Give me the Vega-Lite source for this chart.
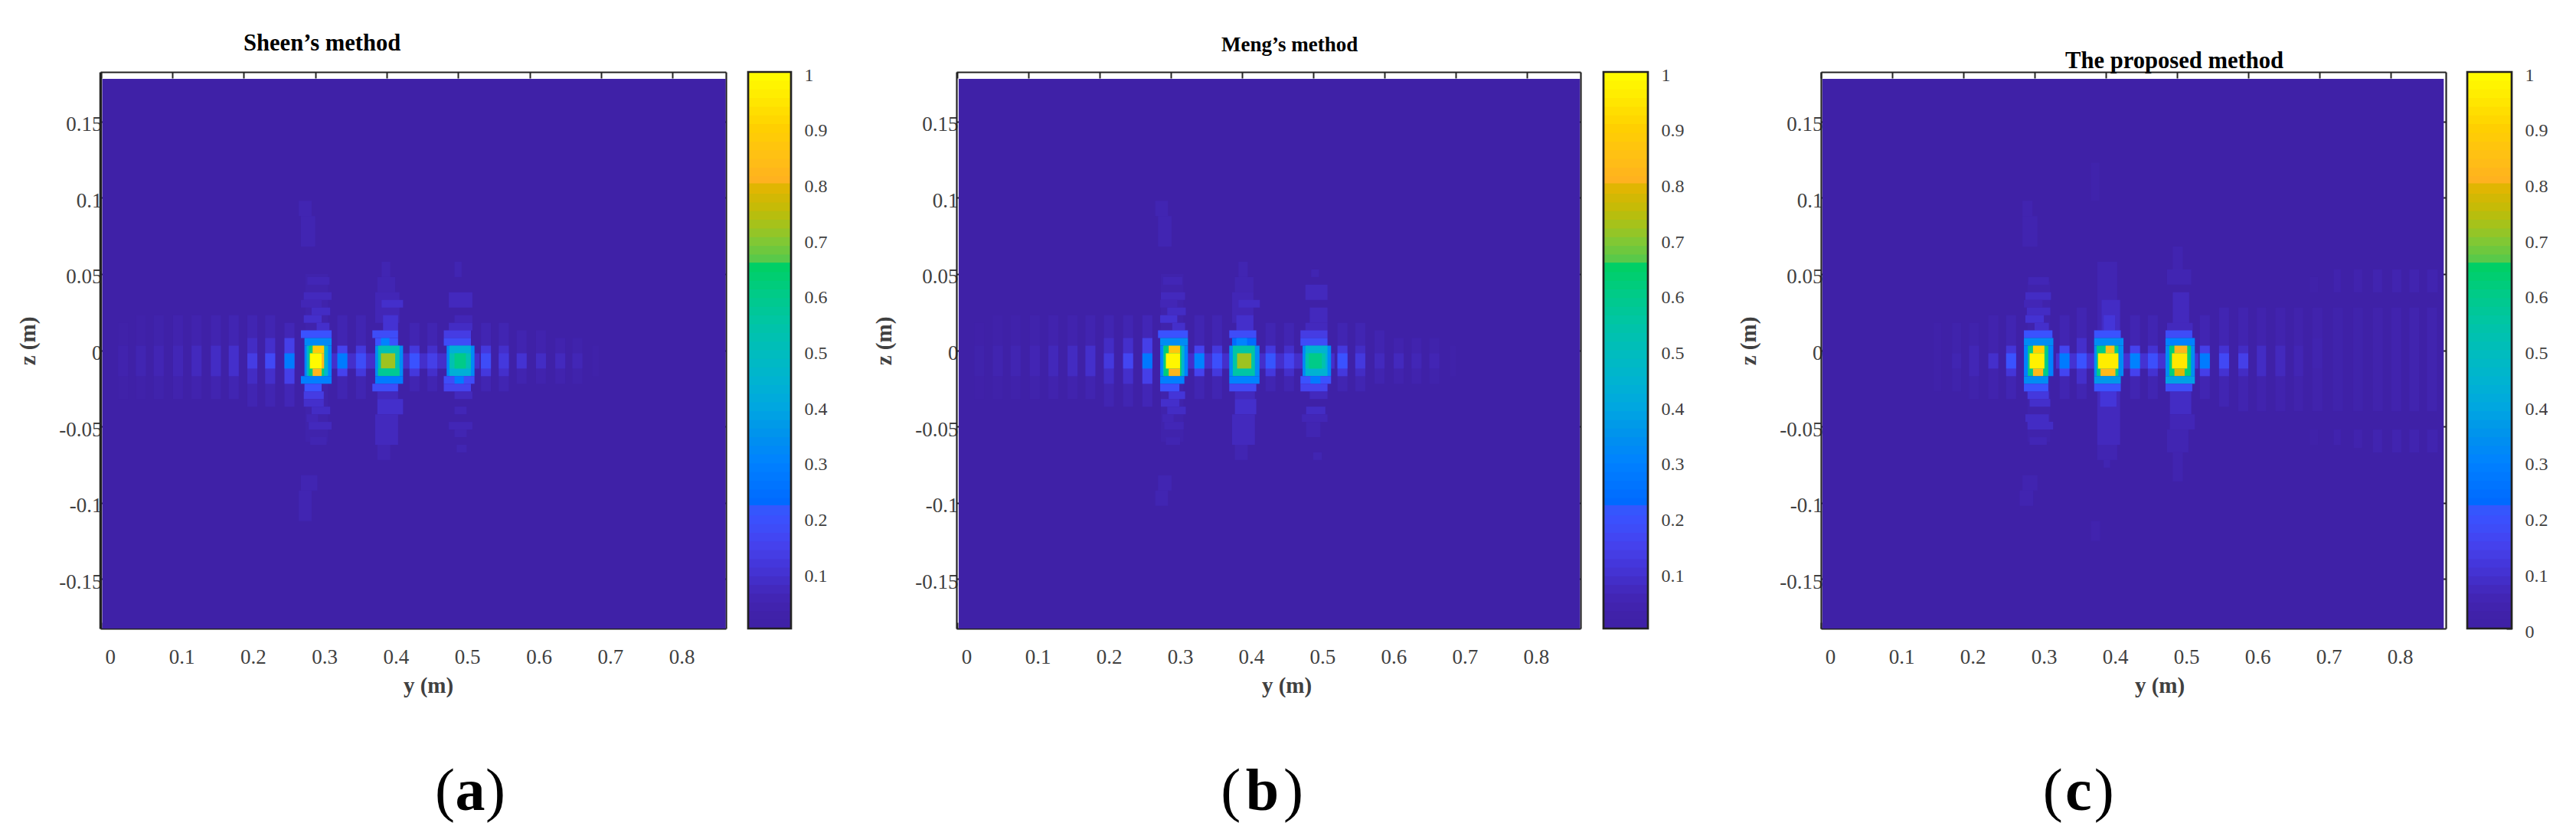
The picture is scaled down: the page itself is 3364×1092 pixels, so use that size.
{"$schema":"https://vega.github.io/schema/vega-lite/v6.json","background":"white","padding":{"left":22,"top":42,"right":0,"bottom":0},"bounds":"flush","spacing":0,"config":{"view":{"stroke":null},"axis":{"labelFont":"Liberation Serif","titleFont":"Liberation Serif","labelColor":"#404040","titleColor":"#404040","tickColor":"#222222","domainColor":"#222222","grid":false,"labelOverlap":false,"labelFlush":false,"zindex":1,"tickWidth":2,"domainWidth":2.2},"title":{"font":"Liberation Serif","fontWeight":"bold","color":"#000000","fontSize":30.6,"anchor":"start","frame":"group","baseline":"alphabetic"}},
"datasets":{
"cb":[{"v0":0,"v":0.008},{"v0":0.0156,"v":0.023},{"v0":0.0313,"v":0.039},{"v0":0.0469,"v":0.055},{"v0":0.0625,"v":0.07},{"v0":0.0781,"v":0.086},{"v0":0.0938,"v":0.102},{"v0":0.1094,"v":0.117},{"v0":0.125,"v":0.133},{"v0":0.1406,"v":0.148},{"v0":0.1563,"v":0.164},{"v0":0.1719,"v":0.18},{"v0":0.1875,"v":0.195},{"v0":0.2031,"v":0.211},{"v0":0.2215,"v":0.228},{"v0":0.2344,"v":0.242},{"v0":0.25,"v":0.258},{"v0":0.2656,"v":0.273},{"v0":0.2813,"v":0.289},{"v0":0.2969,"v":0.305},{"v0":0.3125,"v":0.32},{"v0":0.3281,"v":0.336},{"v0":0.3438,"v":0.352},{"v0":0.3594,"v":0.367},{"v0":0.375,"v":0.383},{"v0":0.3906,"v":0.398},{"v0":0.4063,"v":0.414},{"v0":0.4219,"v":0.43},{"v0":0.4375,"v":0.445},{"v0":0.4531,"v":0.461},{"v0":0.4688,"v":0.477},{"v0":0.4844,"v":0.492},{"v0":0.5,"v":0.508},{"v0":0.5156,"v":0.523},{"v0":0.5313,"v":0.539},{"v0":0.5469,"v":0.555},{"v0":0.5625,"v":0.57},{"v0":0.5781,"v":0.586},{"v0":0.5938,"v":0.602},{"v0":0.6094,"v":0.617},{"v0":0.625,"v":0.633},{"v0":0.6406,"v":0.649},{"v0":0.6575,"v":0.665},{"v0":0.6719,"v":0.68},{"v0":0.6875,"v":0.695},{"v0":0.7031,"v":0.711},{"v0":0.7188,"v":0.727},{"v0":0.7344,"v":0.742},{"v0":0.75,"v":0.758},{"v0":0.7656,"v":0.773},{"v0":0.7813,"v":0.79},{"v0":0.8,"v":0.806},{"v0":0.8125,"v":0.82},{"v0":0.8281,"v":0.836},{"v0":0.8438,"v":0.852},{"v0":0.8594,"v":0.867},{"v0":0.875,"v":0.883},{"v0":0.8906,"v":0.898},{"v0":0.9063,"v":0.914},{"v0":0.9219,"v":0.93},{"v0":0.9375,"v":0.945},{"v0":0.9531,"v":0.961},{"v0":0.9688,"v":0.977},{"v0":0.9844,"v":0.992}],
"a":[{"x0":0.002,"x1":0.8745,"z0":-0.1825,"z1":0.178,"v":0.008},
{"x0":0.32,"x1":0.53,"z0":-0.012,"z1":-0.002,"v":0.09},
{"x0":0.024,"x1":0.038,"z0":-0.032,"z1":0.018,"v":0.025},{"x0":0.024,"x1":0.038,"z0":-0.017,"z1":0.003,"v":0.04},
{"x0":0.049,"x1":0.063,"z0":-0.032,"z1":0.023,"v":0.03},{"x0":0.049,"x1":0.063,"z0":-0.017,"z1":0.003,"v":0.05},
{"x0":0.074,"x1":0.088,"z0":-0.032,"z1":0.023,"v":0.035},{"x0":0.074,"x1":0.088,"z0":-0.017,"z1":0.003,"v":0.055},
{"x0":0.101,"x1":0.115,"z0":-0.032,"z1":0.023,"v":0.04},{"x0":0.101,"x1":0.115,"z0":-0.017,"z1":0.003,"v":0.06},
{"x0":0.127,"x1":0.141,"z0":-0.032,"z1":0.023,"v":0.04},{"x0":0.127,"x1":0.141,"z0":-0.017,"z1":0.003,"v":0.07},
{"x0":0.154,"x1":0.168,"z0":-0.032,"z1":0.023,"v":0.045},{"x0":0.154,"x1":0.168,"z0":-0.017,"z1":0.003,"v":0.08},
{"x0":0.179,"x1":0.193,"z0":-0.032,"z1":0.023,"v":0.05},{"x0":0.179,"x1":0.193,"z0":-0.017,"z1":0.003,"v":0.09},
{"x0":0.205,"x1":0.219,"z0":-0.037,"z1":0.023,"v":0.05},{"x0":0.205,"x1":0.219,"z0":-0.022,"z1":0.008,"v":0.08},{"x0":0.205,"x1":0.219,"z0":-0.012,"z1":-0.002,"v":0.13},
{"x0":0.23,"x1":0.244,"z0":-0.037,"z1":0.023,"v":0.05},{"x0":0.23,"x1":0.244,"z0":-0.022,"z1":0.008,"v":0.09},{"x0":0.23,"x1":0.244,"z0":-0.012,"z1":-0.002,"v":0.17},
{"x0":0.257,"x1":0.271,"z0":-0.037,"z1":0.018,"v":0.06},{"x0":0.257,"x1":0.271,"z0":-0.022,"z1":0.008,"v":0.14},{"x0":0.257,"x1":0.271,"z0":-0.012,"z1":-0.002,"v":0.28},
{"x0":0.331,"x1":0.345,"z0":-0.032,"z1":0.023,"v":0.05},{"x0":0.331,"x1":0.345,"z0":-0.017,"z1":0.003,"v":0.15},{"x0":0.331,"x1":0.345,"z0":-0.012,"z1":-0.002,"v":0.28},
{"x0":0.357,"x1":0.371,"z0":-0.032,"z1":0.023,"v":0.05},{"x0":0.357,"x1":0.371,"z0":-0.017,"z1":0.003,"v":0.12},{"x0":0.357,"x1":0.371,"z0":-0.012,"z1":-0.002,"v":0.18},
{"x0":0.432,"x1":0.446,"z0":-0.027,"z1":0.018,"v":0.05},{"x0":0.432,"x1":0.446,"z0":-0.017,"z1":0.003,"v":0.12},{"x0":0.432,"x1":0.446,"z0":-0.012,"z1":-0.002,"v":0.2},
{"x0":0.457,"x1":0.471,"z0":-0.027,"z1":0.018,"v":0.05},{"x0":0.457,"x1":0.471,"z0":-0.017,"z1":0.003,"v":0.09},{"x0":0.457,"x1":0.471,"z0":-0.012,"z1":-0.002,"v":0.14},
{"x0":0.532,"x1":0.546,"z0":-0.027,"z1":0.018,"v":0.05},{"x0":0.532,"x1":0.546,"z0":-0.017,"z1":0.003,"v":0.12},{"x0":0.532,"x1":0.546,"z0":-0.012,"z1":-0.002,"v":0.18},
{"x0":0.557,"x1":0.571,"z0":-0.027,"z1":0.018,"v":0.05},{"x0":0.557,"x1":0.571,"z0":-0.017,"z1":0.003,"v":0.09},{"x0":0.557,"x1":0.571,"z0":-0.012,"z1":-0.002,"v":0.12},
{"x0":0.582,"x1":0.596,"z0":-0.022,"z1":0.013,"v":0.045},{"x0":0.582,"x1":0.596,"z0":-0.012,"z1":-0.002,"v":0.1},
{"x0":0.609,"x1":0.623,"z0":-0.022,"z1":0.013,"v":0.04},{"x0":0.609,"x1":0.623,"z0":-0.012,"z1":-0.002,"v":0.08},
{"x0":0.636,"x1":0.65,"z0":-0.022,"z1":0.008,"v":0.04},{"x0":0.636,"x1":0.65,"z0":-0.012,"z1":-0.002,"v":0.07},
{"x0":0.66,"x1":0.674,"z0":-0.022,"z1":0.008,"v":0.035},{"x0":0.66,"x1":0.674,"z0":-0.012,"z1":-0.002,"v":0.06},
{"x0":0.688,"x1":0.697,"z0":-0.017,"z1":0.003,"v":0.03},
{"x0":0.286,"x1":0.318,"z0":-0.06,"z1":0.05,"v":0.035},
{"x0":0.289,"x1":0.32,"z0":0.043,"z1":0.048,"v":0.06},{"x0":0.284,"x1":0.323,"z0":0.033,"z1":0.038,"v":0.07},{"x0":0.28,"x1":0.309,"z0":0.028,"z1":0.033,"v":0.06},{"x0":0.295,"x1":0.321,"z0":0.023,"z1":0.028,"v":0.08},{"x0":0.284,"x1":0.309,"z0":0.018,"z1":0.023,"v":0.09},{"x0":0.302,"x1":0.32,"z0":0.013,"z1":0.018,"v":0.09},
{"x0":0.284,"x1":0.312,"z0":-0.032,"z1":-0.027,"v":0.13},{"x0":0.284,"x1":0.312,"z0":-0.037,"z1":-0.032,"v":0.09},{"x0":0.295,"x1":0.321,"z0":-0.042,"z1":-0.037,"v":0.08},{"x0":0.288,"x1":0.304,"z0":-0.047,"z1":-0.042,"v":0.06},{"x0":0.291,"x1":0.323,"z0":-0.052,"z1":-0.047,"v":0.07},{"x0":0.293,"x1":0.316,"z0":-0.062,"z1":-0.057,"v":0.05},
{"x0":0.277,"x1":0.295,"z0":0.088,"z1":0.098,"v":0.05},{"x0":0.28,"x1":0.3,"z0":0.068,"z1":0.088,"v":0.05},{"x0":0.28,"x1":0.303,"z0":-0.092,"z1":-0.082,"v":0.05},{"x0":0.277,"x1":0.295,"z0":-0.112,"z1":-0.092,"v":0.05},
{"x0":0.393,"x1":0.405,"z0":0.048,"z1":0.058,"v":0.05},{"x0":0.387,"x1":0.412,"z0":0.038,"z1":0.048,"v":0.05},{"x0":0.384,"x1":0.418,"z0":0.018,"z1":0.038,"v":0.06},{"x0":0.393,"x1":0.423,"z0":0.028,"z1":0.033,"v":0.09},{"x0":0.395,"x1":0.416,"z0":0.013,"z1":0.023,"v":0.1},
{"x0":0.387,"x1":0.416,"z0":-0.032,"z1":-0.027,"v":0.07},{"x0":0.387,"x1":0.423,"z0":-0.042,"z1":-0.032,"v":0.09},{"x0":0.384,"x1":0.416,"z0":-0.062,"z1":-0.042,"v":0.07},{"x0":0.387,"x1":0.405,"z0":-0.072,"z1":-0.062,"v":0.05},
{"x0":0.495,"x1":0.505,"z0":0.048,"z1":0.058,"v":0.05},{"x0":0.487,"x1":0.52,"z0":0.028,"z1":0.038,"v":0.07},{"x0":0.495,"x1":0.52,"z0":0.018,"z1":0.023,"v":0.06},{"x0":0.487,"x1":0.52,"z0":0.013,"z1":0.018,"v":0.08},
{"x0":0.495,"x1":0.52,"z0":-0.032,"z1":-0.027,"v":0.07},{"x0":0.495,"x1":0.512,"z0":-0.042,"z1":-0.037,"v":0.06},{"x0":0.487,"x1":0.52,"z0":-0.052,"z1":-0.047,"v":0.06},{"x0":0.495,"x1":0.512,"z0":-0.057,"z1":-0.052,"v":0.05},{"x0":0.498,"x1":0.512,"z0":-0.067,"z1":-0.062,"v":0.05},
{"x0":0.28,"x1":0.323,"z0":0.008,"z1":0.013,"v":0.2},{"x0":0.285,"x1":0.323,"z0":0.003,"z1":0.008,"v":0.32},{"x0":0.285,"x1":0.323,"z0":-0.017,"z1":0.003,"v":0.3},{"x0":0.288,"x1":0.318,"z0":-0.017,"z1":0.003,"v":0.45},{"x0":0.291,"x1":0.3125,"z0":-0.017,"z1":0.003,"v":0.62},{"x0":0.2964,"x1":0.3125,"z0":-0.002,"z1":0.003,"v":0.88},{"x0":0.2925,"x1":0.309,"z0":-0.012,"z1":-0.002,"v":0.99},{"x0":0.309,"x1":0.3125,"z0":-0.012,"z1":-0.002,"v":0.83},{"x0":0.2964,"x1":0.309,"z0":-0.017,"z1":-0.012,"v":0.82},{"x0":0.28,"x1":0.323,"z0":-0.022,"z1":-0.017,"v":0.29},{"x0":0.285,"x1":0.309,"z0":-0.027,"z1":-0.022,"v":0.2},
{"x0":0.38,"x1":0.416,"z0":0.008,"z1":0.013,"v":0.18},{"x0":0.384,"x1":0.416,"z0":0.003,"z1":0.008,"v":0.2},{"x0":0.392,"x1":0.404,"z0":0.003,"z1":0.008,"v":0.3},{"x0":0.384,"x1":0.423,"z0":-0.017,"z1":0.003,"v":0.33},{"x0":0.388,"x1":0.418,"z0":-0.017,"z1":0.003,"v":0.52},{"x0":0.392,"x1":0.412,"z0":-0.012,"z1":-0.002,"v":0.72},{"x0":0.388,"x1":0.418,"z0":-0.017,"z1":-0.012,"v":0.58},{"x0":0.384,"x1":0.423,"z0":-0.022,"z1":-0.017,"v":0.28},{"x0":0.38,"x1":0.416,"z0":-0.027,"z1":-0.022,"v":0.18},
{"x0":0.48,"x1":0.518,"z0":0.008,"z1":0.013,"v":0.13},{"x0":0.48,"x1":0.518,"z0":0.003,"z1":0.008,"v":0.18},{"x0":0.484,"x1":0.523,"z0":-0.017,"z1":0.003,"v":0.32},{"x0":0.488,"x1":0.518,"z0":-0.017,"z1":0.003,"v":0.43},{"x0":0.488,"x1":0.518,"z0":-0.012,"z1":-0.002,"v":0.52},{"x0":0.495,"x1":0.511,"z0":-0.012,"z1":-0.002,"v":0.6},{"x0":0.48,"x1":0.523,"z0":-0.022,"z1":-0.017,"v":0.18},{"x0":0.495,"x1":0.508,"z0":-0.022,"z1":-0.017,"v":0.28},{"x0":0.48,"x1":0.518,"z0":-0.027,"z1":-0.022,"v":0.15}],
"b":[{"x0":0.002,"x1":0.8745,"z0":-0.1825,"z1":0.178,"v":0.008},
{"x0":0.32,"x1":0.53,"z0":-0.012,"z1":-0.002,"v":0.09},
{"x0":0.024,"x1":0.038,"z0":-0.032,"z1":0.018,"v":0.022},{"x0":0.024,"x1":0.038,"z0":-0.017,"z1":0.003,"v":0.035},
{"x0":0.05,"x1":0.064,"z0":-0.032,"z1":0.023,"v":0.028},{"x0":0.05,"x1":0.064,"z0":-0.017,"z1":0.003,"v":0.045},
{"x0":0.075,"x1":0.089,"z0":-0.032,"z1":0.023,"v":0.032},{"x0":0.075,"x1":0.089,"z0":-0.017,"z1":0.003,"v":0.05},
{"x0":0.102,"x1":0.116,"z0":-0.032,"z1":0.023,"v":0.035},{"x0":0.102,"x1":0.116,"z0":-0.017,"z1":0.003,"v":0.055},
{"x0":0.128,"x1":0.142,"z0":-0.032,"z1":0.023,"v":0.04},{"x0":0.128,"x1":0.142,"z0":-0.017,"z1":0.003,"v":0.065},
{"x0":0.155,"x1":0.169,"z0":-0.032,"z1":0.023,"v":0.04},{"x0":0.155,"x1":0.169,"z0":-0.017,"z1":0.003,"v":0.075},
{"x0":0.18,"x1":0.194,"z0":-0.032,"z1":0.023,"v":0.045},{"x0":0.18,"x1":0.194,"z0":-0.017,"z1":0.003,"v":0.09},
{"x0":0.206,"x1":0.22,"z0":-0.037,"z1":0.023,"v":0.05},{"x0":0.206,"x1":0.22,"z0":-0.022,"z1":0.008,"v":0.08},{"x0":0.206,"x1":0.22,"z0":-0.012,"z1":-0.002,"v":0.12},
{"x0":0.233,"x1":0.247,"z0":-0.037,"z1":0.023,"v":0.05},{"x0":0.233,"x1":0.247,"z0":-0.022,"z1":0.008,"v":0.09},{"x0":0.233,"x1":0.247,"z0":-0.012,"z1":-0.002,"v":0.16},
{"x0":0.26,"x1":0.274,"z0":-0.037,"z1":0.023,"v":0.06},{"x0":0.26,"x1":0.274,"z0":-0.022,"z1":0.008,"v":0.14},{"x0":0.26,"x1":0.274,"z0":-0.012,"z1":-0.002,"v":0.27},
{"x0":0.333,"x1":0.347,"z0":-0.032,"z1":0.023,"v":0.05},{"x0":0.333,"x1":0.347,"z0":-0.017,"z1":0.003,"v":0.15},{"x0":0.333,"x1":0.347,"z0":-0.012,"z1":-0.002,"v":0.3},
{"x0":0.358,"x1":0.372,"z0":-0.032,"z1":0.023,"v":0.05},{"x0":0.358,"x1":0.372,"z0":-0.017,"z1":0.003,"v":0.12},{"x0":0.358,"x1":0.372,"z0":-0.012,"z1":-0.002,"v":0.19},
{"x0":0.433,"x1":0.447,"z0":-0.027,"z1":0.018,"v":0.05},{"x0":0.433,"x1":0.447,"z0":-0.017,"z1":0.003,"v":0.12},{"x0":0.433,"x1":0.447,"z0":-0.012,"z1":-0.002,"v":0.21},
{"x0":0.459,"x1":0.473,"z0":-0.027,"z1":0.018,"v":0.05},{"x0":0.459,"x1":0.473,"z0":-0.017,"z1":0.003,"v":0.09},{"x0":0.459,"x1":0.473,"z0":-0.012,"z1":-0.002,"v":0.15},
{"x0":0.534,"x1":0.548,"z0":-0.027,"z1":0.018,"v":0.05},{"x0":0.534,"x1":0.548,"z0":-0.017,"z1":0.003,"v":0.12},{"x0":0.534,"x1":0.548,"z0":-0.012,"z1":-0.002,"v":0.2},
{"x0":0.559,"x1":0.573,"z0":-0.027,"z1":0.018,"v":0.05},{"x0":0.559,"x1":0.573,"z0":-0.017,"z1":0.003,"v":0.08},{"x0":0.559,"x1":0.573,"z0":-0.012,"z1":-0.002,"v":0.12},
{"x0":0.586,"x1":0.6,"z0":-0.022,"z1":0.013,"v":0.045},{"x0":0.586,"x1":0.6,"z0":-0.012,"z1":-0.002,"v":0.07},
{"x0":0.613,"x1":0.627,"z0":-0.022,"z1":0.008,"v":0.04},{"x0":0.613,"x1":0.627,"z0":-0.012,"z1":-0.002,"v":0.07},
{"x0":0.638,"x1":0.652,"z0":-0.022,"z1":0.008,"v":0.04},{"x0":0.638,"x1":0.652,"z0":-0.012,"z1":-0.002,"v":0.06},
{"x0":0.663,"x1":0.677,"z0":-0.022,"z1":0.008,"v":0.035},{"x0":0.663,"x1":0.677,"z0":-0.012,"z1":-0.002,"v":0.055},
{"x0":0.692,"x1":0.7,"z0":-0.017,"z1":0.003,"v":0.03},
{"x0":0.286,"x1":0.318,"z0":-0.06,"z1":0.05,"v":0.035},
{"x0":0.289,"x1":0.316,"z0":0.043,"z1":0.048,"v":0.06},{"x0":0.286,"x1":0.32,"z0":0.033,"z1":0.038,"v":0.07},{"x0":0.285,"x1":0.309,"z0":0.028,"z1":0.033,"v":0.06},{"x0":0.295,"x1":0.321,"z0":0.023,"z1":0.028,"v":0.08},{"x0":0.285,"x1":0.309,"z0":0.018,"z1":0.023,"v":0.1},{"x0":0.302,"x1":0.32,"z0":0.013,"z1":0.018,"v":0.09},
{"x0":0.297,"x1":0.32,"z0":-0.032,"z1":-0.027,"v":0.11},{"x0":0.286,"x1":0.312,"z0":-0.037,"z1":-0.032,"v":0.09},{"x0":0.295,"x1":0.321,"z0":-0.042,"z1":-0.037,"v":0.08},{"x0":0.288,"x1":0.304,"z0":-0.047,"z1":-0.042,"v":0.06},{"x0":0.291,"x1":0.318,"z0":-0.052,"z1":-0.047,"v":0.06},{"x0":0.293,"x1":0.313,"z0":-0.062,"z1":-0.057,"v":0.05},
{"x0":0.278,"x1":0.296,"z0":0.088,"z1":0.098,"v":0.05},{"x0":0.282,"x1":0.301,"z0":0.068,"z1":0.088,"v":0.05},{"x0":0.282,"x1":0.301,"z0":-0.092,"z1":-0.082,"v":0.05},{"x0":0.278,"x1":0.296,"z0":-0.102,"z1":-0.092,"v":0.05},
{"x0":0.395,"x1":0.408,"z0":0.048,"z1":0.058,"v":0.05},{"x0":0.39,"x1":0.416,"z0":0.038,"z1":0.048,"v":0.05},{"x0":0.386,"x1":0.416,"z0":0.018,"z1":0.038,"v":0.06},{"x0":0.395,"x1":0.425,"z0":0.028,"z1":0.033,"v":0.08},{"x0":0.392,"x1":0.416,"z0":0.013,"z1":0.023,"v":0.09},
{"x0":0.39,"x1":0.418,"z0":-0.032,"z1":-0.027,"v":0.07},{"x0":0.39,"x1":0.42,"z0":-0.042,"z1":-0.032,"v":0.09},{"x0":0.386,"x1":0.418,"z0":-0.062,"z1":-0.042,"v":0.07},{"x0":0.39,"x1":0.408,"z0":-0.072,"z1":-0.062,"v":0.05},
{"x0":0.497,"x1":0.508,"z0":0.048,"z1":0.053,"v":0.05},{"x0":0.489,"x1":0.52,"z0":0.033,"z1":0.043,"v":0.07},{"x0":0.495,"x1":0.52,"z0":0.018,"z1":0.028,"v":0.07},{"x0":0.489,"x1":0.52,"z0":0.013,"z1":0.018,"v":0.07},
{"x0":0.495,"x1":0.52,"z0":-0.032,"z1":-0.027,"v":0.07},{"x0":0.49,"x1":0.517,"z0":-0.042,"z1":-0.037,"v":0.08},{"x0":0.484,"x1":0.52,"z0":-0.047,"z1":-0.042,"v":0.06},{"x0":0.49,"x1":0.51,"z0":-0.057,"z1":-0.047,"v":0.05},{"x0":0.5,"x1":0.512,"z0":-0.072,"z1":-0.067,"v":0.05},
{"x0":0.282,"x1":0.324,"z0":0.008,"z1":0.013,"v":0.2},{"x0":0.285,"x1":0.324,"z0":0.003,"z1":0.008,"v":0.33},{"x0":0.285,"x1":0.324,"z0":-0.017,"z1":0.003,"v":0.3},{"x0":0.289,"x1":0.319,"z0":-0.017,"z1":0.003,"v":0.45},{"x0":0.29,"x1":0.315,"z0":-0.017,"z1":0.003,"v":0.62},{"x0":0.297,"x1":0.313,"z0":-0.002,"z1":0.003,"v":0.87},{"x0":0.293,"x1":0.313,"z0":-0.012,"z1":-0.002,"v":0.98},{"x0":0.297,"x1":0.313,"z0":-0.017,"z1":-0.012,"v":0.82},{"x0":0.285,"x1":0.319,"z0":-0.022,"z1":-0.017,"v":0.29},{"x0":0.285,"x1":0.312,"z0":-0.027,"z1":-0.022,"v":0.19},
{"x0":0.382,"x1":0.42,"z0":0.008,"z1":0.013,"v":0.18},{"x0":0.386,"x1":0.42,"z0":0.003,"z1":0.008,"v":0.23},{"x0":0.392,"x1":0.407,"z0":0.003,"z1":0.008,"v":0.3},{"x0":0.382,"x1":0.4245,"z0":-0.017,"z1":0.003,"v":0.33},{"x0":0.387,"x1":0.418,"z0":-0.017,"z1":0.003,"v":0.55},{"x0":0.393,"x1":0.413,"z0":-0.012,"z1":-0.002,"v":0.72},{"x0":0.382,"x1":0.4245,"z0":-0.022,"z1":-0.017,"v":0.3},{"x0":0.382,"x1":0.42,"z0":-0.027,"z1":-0.022,"v":0.17},
{"x0":0.482,"x1":0.52,"z0":0.008,"z1":0.013,"v":0.13},{"x0":0.482,"x1":0.52,"z0":0.003,"z1":0.008,"v":0.18},{"x0":0.485,"x1":0.525,"z0":-0.017,"z1":0.003,"v":0.32},{"x0":0.489,"x1":0.52,"z0":-0.017,"z1":0.003,"v":0.44},{"x0":0.489,"x1":0.517,"z0":-0.012,"z1":-0.002,"v":0.53},{"x0":0.494,"x1":0.512,"z0":-0.012,"z1":-0.002,"v":0.6},{"x0":0.482,"x1":0.525,"z0":-0.022,"z1":-0.017,"v":0.2},{"x0":0.496,"x1":0.51,"z0":-0.022,"z1":-0.017,"v":0.28},{"x0":0.482,"x1":0.52,"z0":-0.027,"z1":-0.022,"v":0.15}],
"c":[{"x0":0.002,"x1":0.8745,"z0":-0.1825,"z1":0.178,"v":0.008},
{"x0":0.33,"x1":0.53,"z0":-0.012,"z1":-0.002,"v":0.1},
{"x0":0.158,"x1":0.169,"z0":-0.027,"z1":0.018,"v":0.03},
{"x0":0.184,"x1":0.197,"z0":-0.027,"z1":0.018,"v":0.035},{"x0":0.184,"x1":0.197,"z0":-0.012,"z1":-0.002,"v":0.05},
{"x0":0.208,"x1":0.222,"z0":-0.032,"z1":0.018,"v":0.035},{"x0":0.208,"x1":0.222,"z0":-0.017,"z1":0.003,"v":0.06},
{"x0":0.235,"x1":0.249,"z0":-0.032,"z1":0.023,"v":0.04},{"x0":0.235,"x1":0.249,"z0":-0.012,"z1":-0.002,"v":0.09},
{"x0":0.26,"x1":0.274,"z0":-0.032,"z1":0.023,"v":0.05},{"x0":0.26,"x1":0.274,"z0":-0.017,"z1":0.003,"v":0.11},{"x0":0.26,"x1":0.274,"z0":-0.012,"z1":-0.002,"v":0.2},
{"x0":0.335,"x1":0.349,"z0":-0.032,"z1":0.023,"v":0.05},{"x0":0.335,"x1":0.349,"z0":-0.017,"z1":0.003,"v":0.16},{"x0":0.335,"x1":0.349,"z0":-0.012,"z1":-0.002,"v":0.28},
{"x0":0.359,"x1":0.373,"z0":-0.032,"z1":0.028,"v":0.05},{"x0":0.359,"x1":0.373,"z0":-0.022,"z1":0.008,"v":0.09},{"x0":0.359,"x1":0.373,"z0":-0.012,"z1":-0.002,"v":0.2},
{"x0":0.434,"x1":0.448,"z0":-0.032,"z1":0.023,"v":0.05},{"x0":0.434,"x1":0.448,"z0":-0.017,"z1":0.003,"v":0.15},{"x0":0.434,"x1":0.448,"z0":-0.012,"z1":-0.002,"v":0.3},
{"x0":0.459,"x1":0.473,"z0":-0.032,"z1":0.023,"v":0.05},{"x0":0.459,"x1":0.473,"z0":-0.017,"z1":0.003,"v":0.1},{"x0":0.459,"x1":0.473,"z0":-0.012,"z1":-0.002,"v":0.19},
{"x0":0.532,"x1":0.546,"z0":-0.032,"z1":0.023,"v":0.05},{"x0":0.532,"x1":0.546,"z0":-0.017,"z1":0.003,"v":0.14},{"x0":0.532,"x1":0.546,"z0":-0.012,"z1":-0.002,"v":0.28},
{"x0":0.559,"x1":0.573,"z0":-0.037,"z1":0.028,"v":0.05},{"x0":0.559,"x1":0.573,"z0":-0.017,"z1":0.003,"v":0.1},{"x0":0.559,"x1":0.573,"z0":-0.012,"z1":-0.002,"v":0.17},
{"x0":0.586,"x1":0.6,"z0":-0.04,"z1":0.028,"v":0.045},{"x0":0.586,"x1":0.6,"z0":-0.017,"z1":0.003,"v":0.08},{"x0":0.586,"x1":0.6,"z0":-0.012,"z1":-0.002,"v":0.14},
{"x0":0.612,"x1":0.625,"z0":-0.04,"z1":0.028,"v":0.04},{"x0":0.612,"x1":0.625,"z0":-0.017,"z1":0.003,"v":0.08},
{"x0":0.638,"x1":0.652,"z0":-0.04,"z1":0.028,"v":0.04},{"x0":0.638,"x1":0.652,"z0":-0.017,"z1":0.003,"v":0.07},
{"x0":0.664,"x1":0.677,"z0":-0.04,"z1":0.028,"v":0.038},{"x0":0.664,"x1":0.677,"z0":-0.017,"z1":0.003,"v":0.055},
{"x0":0.69,"x1":0.704,"z0":-0.04,"z1":0.028,"v":0.038},{"x0":0.69,"x1":0.704,"z0":-0.012,"z1":0.008,"v":0.045},
{"x0":0.719,"x1":0.733,"z0":-0.04,"z1":0.028,"v":0.036},{"x0":0.747,"x1":0.761,"z0":-0.04,"z1":0.028,"v":0.036},{"x0":0.775,"x1":0.789,"z0":-0.04,"z1":0.028,"v":0.038},{"x0":0.801,"x1":0.815,"z0":-0.04,"z1":0.028,"v":0.04},{"x0":0.826,"x1":0.84,"z0":-0.04,"z1":0.028,"v":0.042},{"x0":0.851,"x1":0.865,"z0":-0.04,"z1":0.028,"v":0.042},
{"x0":0.686,"x1":0.698,"z0":0.038,"z1":0.048,"v":0.03},{"x0":0.72,"x1":0.73,"z0":0.038,"z1":0.053,"v":0.04},{"x0":0.748,"x1":0.76,"z0":0.038,"z1":0.053,"v":0.04},{"x0":0.775,"x1":0.788,"z0":0.038,"z1":0.053,"v":0.045},{"x0":0.802,"x1":0.815,"z0":0.038,"z1":0.053,"v":0.045},{"x0":0.826,"x1":0.84,"z0":0.038,"z1":0.053,"v":0.045},{"x0":0.851,"x1":0.866,"z0":0.038,"z1":0.053,"v":0.045},
{"x0":0.686,"x1":0.698,"z0":-0.062,"z1":-0.052,"v":0.03},{"x0":0.72,"x1":0.73,"z0":-0.062,"z1":-0.052,"v":0.04},{"x0":0.748,"x1":0.76,"z0":-0.064,"z1":-0.052,"v":0.04},{"x0":0.775,"x1":0.788,"z0":-0.067,"z1":-0.052,"v":0.045},{"x0":0.802,"x1":0.815,"z0":-0.067,"z1":-0.052,"v":0.045},{"x0":0.826,"x1":0.84,"z0":-0.067,"z1":-0.052,"v":0.045},{"x0":0.851,"x1":0.866,"z0":-0.067,"z1":-0.052,"v":0.045},
{"x0":0.29,"x1":0.322,"z0":-0.06,"z1":0.045,"v":0.035},
{"x0":0.291,"x1":0.32,"z0":0.043,"z1":0.048,"v":0.06},{"x0":0.287,"x1":0.323,"z0":0.033,"z1":0.038,"v":0.08},{"x0":0.285,"x1":0.311,"z0":0.028,"z1":0.033,"v":0.06},{"x0":0.289,"x1":0.322,"z0":0.023,"z1":0.028,"v":0.08},{"x0":0.287,"x1":0.313,"z0":0.018,"z1":0.023,"v":0.1},{"x0":0.3,"x1":0.32,"z0":0.013,"z1":0.018,"v":0.09},
{"x0":0.29,"x1":0.32,"z0":-0.032,"z1":-0.027,"v":0.12},{"x0":0.293,"x1":0.322,"z0":-0.037,"z1":-0.032,"v":0.09},{"x0":0.287,"x1":0.32,"z0":-0.047,"z1":-0.042,"v":0.08},{"x0":0.29,"x1":0.326,"z0":-0.052,"z1":-0.047,"v":0.08},{"x0":0.293,"x1":0.317,"z0":-0.062,"z1":-0.057,"v":0.06},
{"x0":0.283,"x1":0.297,"z0":0.088,"z1":0.098,"v":0.045},{"x0":0.283,"x1":0.304,"z0":0.068,"z1":0.088,"v":0.045},{"x0":0.283,"x1":0.304,"z0":-0.092,"z1":-0.082,"v":0.045},{"x0":0.279,"x1":0.298,"z0":-0.102,"z1":-0.092,"v":0.045},
{"x0":0.379,"x1":0.391,"z0":0.098,"z1":0.123,"v":0.035},{"x0":0.379,"x1":0.392,"z0":-0.125,"z1":-0.112,"v":0.04},
{"x0":0.388,"x1":0.416,"z0":0.013,"z1":0.058,"v":0.05},{"x0":0.394,"x1":0.42,"z0":0.013,"z1":0.033,"v":0.08},{"x0":0.397,"x1":0.413,"z0":0.013,"z1":0.023,"v":0.11},
{"x0":0.388,"x1":0.42,"z0":-0.062,"z1":-0.027,"v":0.07},{"x0":0.392,"x1":0.415,"z0":-0.037,"z1":-0.027,"v":0.11},{"x0":0.388,"x1":0.416,"z0":-0.072,"z1":-0.062,"v":0.05},{"x0":0.397,"x1":0.406,"z0":-0.077,"z1":-0.072,"v":0.05},
{"x0":0.494,"x1":0.508,"z0":0.048,"z1":0.068,"v":0.045},{"x0":0.486,"x1":0.52,"z0":0.043,"z1":0.053,"v":0.05},{"x0":0.494,"x1":0.517,"z0":0.013,"z1":0.038,"v":0.07},{"x0":0.486,"x1":0.522,"z0":0.013,"z1":0.018,"v":0.07},
{"x0":0.49,"x1":0.52,"z0":-0.042,"z1":-0.027,"v":0.08},{"x0":0.49,"x1":0.525,"z0":-0.052,"z1":-0.042,"v":0.06},{"x0":0.486,"x1":0.516,"z0":-0.067,"z1":-0.052,"v":0.05},{"x0":0.494,"x1":0.508,"z0":-0.086,"z1":-0.067,"v":0.045},
{"x0":0.285,"x1":0.325,"z0":0.008,"z1":0.013,"v":0.2},{"x0":0.285,"x1":0.3263,"z0":0.003,"z1":0.008,"v":0.33},{"x0":0.285,"x1":0.3263,"z0":-0.017,"z1":0.003,"v":0.3},{"x0":0.2905,"x1":0.3192,"z0":-0.017,"z1":0.003,"v":0.6},{"x0":0.2977,"x1":0.3138,"z0":-0.002,"z1":0.003,"v":0.9},{"x0":0.293,"x1":0.3138,"z0":-0.012,"z1":-0.002,"v":0.97},{"x0":0.2977,"x1":0.312,"z0":-0.017,"z1":-0.012,"v":0.83},{"x0":0.285,"x1":0.3192,"z0":-0.022,"z1":-0.017,"v":0.33},{"x0":0.285,"x1":0.3192,"z0":-0.027,"z1":-0.022,"v":0.2},
{"x0":0.3836,"x1":0.421,"z0":0.008,"z1":0.013,"v":0.2},{"x0":0.3836,"x1":0.4248,"z0":0.003,"z1":0.008,"v":0.33},{"x0":0.3836,"x1":0.4248,"z0":-0.017,"z1":0.003,"v":0.33},{"x0":0.3872,"x1":0.4176,"z0":-0.017,"z1":0.003,"v":0.6},{"x0":0.3997,"x1":0.4122,"z0":-0.002,"z1":0.003,"v":0.85},{"x0":0.389,"x1":0.4176,"z0":-0.012,"z1":-0.002,"v":0.96},{"x0":0.3925,"x1":0.4135,"z0":-0.017,"z1":-0.012,"v":0.83},{"x0":0.3836,"x1":0.421,"z0":-0.022,"z1":-0.017,"v":0.36},{"x0":0.3836,"x1":0.421,"z0":-0.027,"z1":-0.022,"v":0.2},
{"x0":0.4838,"x1":0.5214,"z0":0.008,"z1":0.013,"v":0.18},{"x0":0.4838,"x1":0.525,"z0":0.003,"z1":0.008,"v":0.3},{"x0":0.4838,"x1":0.525,"z0":-0.017,"z1":0.003,"v":0.33},{"x0":0.4892,"x1":0.5196,"z0":-0.017,"z1":0.003,"v":0.62},{"x0":0.4963,"x1":0.5143,"z0":-0.002,"z1":0.003,"v":0.82},{"x0":0.4928,"x1":0.5143,"z0":-0.012,"z1":-0.002,"v":0.95},{"x0":0.4963,"x1":0.5107,"z0":-0.017,"z1":-0.012,"v":0.79},{"x0":0.4838,"x1":0.525,"z0":-0.022,"z1":-0.017,"v":0.38},{"x0":0.4838,"x1":0.5214,"z0":-0.027,"z1":-0.022,"v":0.18}],
"colorBarTop":[{"y0":0,"y1":1}]
},
"hconcat":[
{"width":817,"height":727,"title":{"text":"Sheen’s method","dx":187,"offset":20},"layer":[{"layer":[
{"data":{"name":"a"},"mark":{"type":"rect"},"encoding":{"x":{"field":"x0","type":"quantitative","scale":{"domain":[-0.00075,0.8749],"nice":false,"zero":false},"axis":{"values":[0,0.1,0.2,0.3,0.4,0.5,0.6,0.7,0.8],"labelExpr":"''+datum.value","labelFontSize":27,"labelOffset":12,"labelPadding":32,"tickSize":-8,"title":"y (m)","titleFontSize":29,"titleFontWeight":"bold","titleX":428,"titleY":74,"titleBaseline":"middle","domain":true}},"x2":{"field":"x1"},"y":{"field":"z0","type":"quantitative","scale":{"domain":[-0.1825,0.1825],"nice":false,"zero":false},"axis":{"values":[-0.15,-0.1,-0.05,0,0.05,0.1,0.15],"labelExpr":"''+datum.value","labelFontSize":27,"labelOffset":4,"labelPadding":6,"tickSize":-8,"title":"z (m)","titleFontSize":29,"titleFontWeight":"bold","titleX":-95,"titleY":351,"titleAngle":-90,"titleBaseline":"middle","domain":true,"domainWidth":3.5}},"y2":{"field":"z1"},"color":{"field":"v","type":"quantitative","legend":null,"scale":{"type":"linear","interpolate":"rgb","domain":[0,0.03,0.06,0.1,0.15,0.2,0.2214,0.2215,0.3,0.35,0.4,0.45,0.5,0.55,0.6,0.6574,0.6575,0.7,0.75,0.7999,0.8,0.85,0.9,0.95,1],"range":["#3F20A6","#4022AA","#4226B6","#4432D2","#4542EE","#3A52FF","#3159FC","#0068FF","#0082FF","#0093EC","#00A8E0","#00B4CF","#00BDBC","#00C5A5","#00CB88","#00D060","#50C94E","#88C830","#C0BC08","#E8B400","#FFB020","#FFC014","#FFD000","#FFE800","#FFFF00"]}}}},
{"data":{"values":[{"l":"(","x":0.4816,"z":-0.29},{"l":")","x":0.5523,"z":-0.29}]},"mark":{"type":"text","font":"Liberation Serif","fontSize":78,"baseline":"middle","color":"#000000"},"encoding":{"x":{"field":"x","type":"quantitative"},"y":{"field":"z","type":"quantitative"},"text":{"field":"l"}}},
{"data":{"values":[{"l":"a","x":0.517,"z":-0.29}]},"mark":{"type":"text","font":"Liberation Serif","fontSize":78,"fontWeight":"bold","baseline":"middle","color":"#000000"},"encoding":{"x":{"field":"x","type":"quantitative"},"y":{"field":"z","type":"quantitative"},"text":{"field":"l"}}}
]},
{"data":{"values":[{"x":0,"z":0}]},"mark":{"type":"point","opacity":0},"encoding":{"x":{"field":"x","type":"quantitative","scale":{"domain":[-0.00075,0.8749],"nice":false,"zero":false},"axis":{"orient":"top","values":[0,0.1,0.2,0.3,0.4,0.5,0.6,0.7,0.8],"labels":false,"tickSize":-8,"title":null}},"y":{"field":"z","type":"quantitative","scale":{"domain":[-0.1825,0.1825],"nice":false,"zero":false},"axis":{"orient":"right","values":[-0.15,-0.1,-0.05,0,0.05,0.1,0.15],"labels":false,"tickSize":-8,"title":null}}}}
],"resolve":{"scale":{"x":"independent","y":"independent"}}},
{"width":29,"height":727,"data":{"values":[]},"mark":"rect","encoding":{}},
{"width":56,"height":727,"layer":[{"data":{"name":"cb"},"mark":"rect","encoding":{"y":{"field":"v0","type":"quantitative","scale":{"domain":[0,1],"nice":false,"zero":false},"axis":{"orient":"right","values":[0.1,0.2,0.3,0.4,0.5,0.6,0.7,0.8,0.9,1],"labelExpr":"''+datum.value","labelFontSize":24,"labelOffset":4,"labelPadding":24,"tickSize":-7,"title":null,"domain":false}},"y2":{"datum":1},"color":{"field":"v","type":"quantitative","legend":null,"scale":{"type":"linear","interpolate":"rgb","domain":[0,0.03,0.06,0.1,0.15,0.2,0.2214,0.2215,0.3,0.35,0.4,0.45,0.5,0.55,0.6,0.6574,0.6575,0.7,0.75,0.7999,0.8,0.85,0.9,0.95,1],"range":["#3F20A6","#4022AA","#4226B6","#4432D2","#4542EE","#3A52FF","#3159FC","#0068FF","#0082FF","#0093EC","#00A8E0","#00B4CF","#00BDBC","#00C5A5","#00CB88","#00D060","#50C94E","#88C830","#C0BC08","#E8B400","#FFB020","#FFC014","#FFD000","#FFE800","#FFFF00"]}}}},{"data":{"name":"colorBarTop"},"mark":{"type":"rect","fill":null,"stroke":"#222222","strokeWidth":2.7},"encoding":{"y":{"field":"y0","type":"quantitative"},"y2":{"field":"y1"}}}]},
{"width":216,"height":727,"data":{"values":[]},"mark":"rect","encoding":{}},
{"width":815,"height":727,"title":{"text":"Meng’s method","dx":346,"offset":20,"fontSize":27},"layer":[{"layer":[
{"data":{"name":"b"},"mark":{"type":"rect"},"encoding":{"x":{"field":"x0","type":"quantitative","scale":{"domain":[-0.0011,0.8753],"nice":false,"zero":false},"axis":{"values":[0,0.1,0.2,0.3,0.4,0.5,0.6,0.7,0.8],"labelExpr":"''+datum.value","labelFontSize":27,"labelOffset":12,"labelPadding":32,"tickSize":-8,"title":"y (m)","titleFontSize":29,"titleFontWeight":"bold","titleX":431,"titleY":74,"titleBaseline":"middle","domain":true}},"x2":{"field":"x1"},"y":{"field":"z0","type":"quantitative","scale":{"domain":[-0.1825,0.1825],"nice":false,"zero":false},"axis":{"values":[-0.15,-0.1,-0.05,0,0.05,0.1,0.15],"labelExpr":"''+datum.value","labelFontSize":27,"labelOffset":4,"labelPadding":6,"tickSize":-8,"title":"z (m)","titleFontSize":29,"titleFontWeight":"bold","titleX":-95,"titleY":351,"titleAngle":-90,"titleBaseline":"middle","domain":true}},"y2":{"field":"z1"},"color":{"field":"v","type":"quantitative","legend":null,"scale":{"type":"linear","interpolate":"rgb","domain":[0,0.03,0.06,0.1,0.15,0.2,0.2214,0.2215,0.3,0.35,0.4,0.45,0.5,0.55,0.6,0.6574,0.6575,0.7,0.75,0.7999,0.8,0.85,0.9,0.95,1],"range":["#3F20A6","#4022AA","#4226B6","#4432D2","#4542EE","#3A52FF","#3159FC","#0068FF","#0082FF","#0093EC","#00A8E0","#00B4CF","#00BDBC","#00C5A5","#00CB88","#00D060","#50C94E","#88C830","#C0BC08","#E8B400","#FFB020","#FFC014","#FFD000","#FFE800","#FFFF00"]}}}},
{"data":{"values":[{"l":"(","x":0.384,"z":-0.29},{"l":")","x":0.472,"z":-0.29}]},"mark":{"type":"text","font":"Liberation Serif","fontSize":78,"baseline":"middle","color":"#000000"},"encoding":{"x":{"field":"x","type":"quantitative"},"y":{"field":"z","type":"quantitative"},"text":{"field":"l"}}},
{"data":{"values":[{"l":"b","x":0.4285,"z":-0.29}]},"mark":{"type":"text","font":"Liberation Serif","fontSize":78,"fontWeight":"bold","baseline":"middle","color":"#000000"},"encoding":{"x":{"field":"x","type":"quantitative"},"y":{"field":"z","type":"quantitative"},"text":{"field":"l"}}}
]},
{"data":{"values":[{"x":0,"z":0}]},"mark":{"type":"point","opacity":0},"encoding":{"x":{"field":"x","type":"quantitative","scale":{"domain":[-0.0011,0.8753],"nice":false,"zero":false},"axis":{"orient":"top","values":[0,0.1,0.2,0.3,0.4,0.5,0.6,0.7,0.8],"labels":false,"tickSize":-8,"title":null}},"y":{"field":"z","type":"quantitative","scale":{"domain":[-0.1825,0.1825],"nice":false,"zero":false},"axis":{"orient":"right","values":[-0.15,-0.1,-0.05,0,0.05,0.1,0.15],"labels":false,"tickSize":-8,"title":null}}}}
],"resolve":{"scale":{"x":"independent","y":"independent"}}},
{"width":30,"height":727,"data":{"values":[]},"mark":"rect","encoding":{}},
{"width":58,"height":727,"layer":[{"data":{"name":"cb"},"mark":"rect","encoding":{"y":{"field":"v0","type":"quantitative","scale":{"domain":[0,1],"nice":false,"zero":false},"axis":{"orient":"right","values":[0.1,0.2,0.3,0.4,0.5,0.6,0.7,0.8,0.9,1],"labelExpr":"''+datum.value","labelFontSize":24,"labelOffset":4,"labelPadding":24,"tickSize":-7,"title":null,"domain":false}},"y2":{"datum":1},"color":{"field":"v","type":"quantitative","legend":null,"scale":{"type":"linear","interpolate":"rgb","domain":[0,0.03,0.06,0.1,0.15,0.2,0.2214,0.2215,0.3,0.35,0.4,0.45,0.5,0.55,0.6,0.6574,0.6575,0.7,0.75,0.7999,0.8,0.85,0.9,0.95,1],"range":["#3F20A6","#4022AA","#4226B6","#4432D2","#4542EE","#3A52FF","#3159FC","#0068FF","#0082FF","#0093EC","#00A8E0","#00B4CF","#00BDBC","#00C5A5","#00CB88","#00D060","#50C94E","#88C830","#C0BC08","#E8B400","#FFB020","#FFC014","#FFD000","#FFE800","#FFFF00"]}}}},{"data":{"name":"colorBarTop"},"mark":{"type":"rect","fill":null,"stroke":"#222222","strokeWidth":2.7},"encoding":{"y":{"field":"y0","type":"quantitative"},"y2":{"field":"y1"}}}]},
{"width":226,"height":727,"data":{"values":[]},"mark":"rect","encoding":{}},
{"width":816,"height":727,"title":{"text":"The proposed method","dx":319,"offset":-3},"layer":[{"layer":[
{"data":{"name":"c"},"mark":{"type":"rect"},"encoding":{"x":{"field":"x0","type":"quantitative","scale":{"domain":[0,0.8774],"nice":false,"zero":false},"axis":{"values":[0,0.1,0.2,0.3,0.4,0.5,0.6,0.7,0.8],"labelExpr":"''+datum.value","labelFontSize":27,"labelOffset":12,"labelPadding":32,"tickSize":-8,"title":"y (m)","titleFontSize":29,"titleFontWeight":"bold","titleX":442,"titleY":74,"titleBaseline":"middle","domain":true}},"x2":{"field":"x1"},"y":{"field":"z0","type":"quantitative","scale":{"domain":[-0.1825,0.1825],"nice":false,"zero":false},"axis":{"values":[-0.15,-0.1,-0.05,0,0.05,0.1,0.15],"labelExpr":"''+datum.value","labelFontSize":27,"labelOffset":4,"labelPadding":6,"tickSize":-8,"title":"z (m)","titleFontSize":29,"titleFontWeight":"bold","titleX":-95,"titleY":351,"titleAngle":-90,"titleBaseline":"middle","domain":true}},"y2":{"field":"z1"},"color":{"field":"v","type":"quantitative","legend":null,"scale":{"type":"linear","interpolate":"rgb","domain":[0,0.03,0.06,0.1,0.15,0.2,0.2214,0.2215,0.3,0.35,0.4,0.45,0.5,0.55,0.6,0.6574,0.6575,0.7,0.75,0.7999,0.8,0.85,0.9,0.95,1],"range":["#3F20A6","#4022AA","#4226B6","#4432D2","#4542EE","#3A52FF","#3159FC","#0068FF","#0082FF","#0093EC","#00A8E0","#00B4CF","#00BDBC","#00C5A5","#00CB88","#00D060","#50C94E","#88C830","#C0BC08","#E8B400","#FFB020","#FFC014","#FFD000","#FFE800","#FFFF00"]}}}},
{"data":{"values":[{"l":"(","x":0.3255,"z":-0.29},{"l":")","x":0.3975,"z":-0.29}]},"mark":{"type":"text","font":"Liberation Serif","fontSize":78,"baseline":"middle","color":"#000000"},"encoding":{"x":{"field":"x","type":"quantitative"},"y":{"field":"z","type":"quantitative"},"text":{"field":"l"}}},
{"data":{"values":[{"l":"c","x":0.3615,"z":-0.29}]},"mark":{"type":"text","font":"Liberation Serif","fontSize":78,"fontWeight":"bold","baseline":"middle","color":"#000000"},"encoding":{"x":{"field":"x","type":"quantitative"},"y":{"field":"z","type":"quantitative"},"text":{"field":"l"}}}
]},
{"data":{"values":[{"x":0,"z":0}]},"mark":{"type":"point","opacity":0},"encoding":{"x":{"field":"x","type":"quantitative","scale":{"domain":[0,0.8774],"nice":false,"zero":false},"axis":{"orient":"top","values":[0,0.1,0.2,0.3,0.4,0.5,0.6,0.7,0.8],"labels":false,"tickSize":-8,"title":null}},"y":{"field":"z","type":"quantitative","scale":{"domain":[-0.1825,0.1825],"nice":false,"zero":false},"axis":{"orient":"right","values":[-0.15,-0.1,-0.05,0,0.05,0.1,0.15],"labels":false,"tickSize":-8,"title":null}}}}
],"resolve":{"scale":{"x":"independent","y":"independent"}}},
{"width":28,"height":727,"data":{"values":[]},"mark":"rect","encoding":{}},
{"width":58,"height":727,"layer":[{"data":{"name":"cb"},"mark":"rect","encoding":{"y":{"field":"v0","type":"quantitative","scale":{"domain":[0,1],"nice":false,"zero":false},"axis":{"orient":"right","values":[0,0.1,0.2,0.3,0.4,0.5,0.6,0.7,0.8,0.9,1],"labelExpr":"''+datum.value","labelFontSize":24,"labelOffset":4,"labelPadding":24,"tickSize":-7,"title":null,"domain":false}},"y2":{"datum":1},"color":{"field":"v","type":"quantitative","legend":null,"scale":{"type":"linear","interpolate":"rgb","domain":[0,0.03,0.06,0.1,0.15,0.2,0.2214,0.2215,0.3,0.35,0.4,0.45,0.5,0.55,0.6,0.6574,0.6575,0.7,0.75,0.7999,0.8,0.85,0.9,0.95,1],"range":["#3F20A6","#4022AA","#4226B6","#4432D2","#4542EE","#3A52FF","#3159FC","#0068FF","#0082FF","#0093EC","#00A8E0","#00B4CF","#00BDBC","#00C5A5","#00CB88","#00D060","#50C94E","#88C830","#C0BC08","#E8B400","#FFB020","#FFC014","#FFD000","#FFE800","#FFFF00"]}}}},{"data":{"name":"colorBarTop"},"mark":{"type":"rect","fill":null,"stroke":"#222222","strokeWidth":2.7},"encoding":{"y":{"field":"y0","type":"quantitative"},"y2":{"field":"y1"}}}]}
]}
